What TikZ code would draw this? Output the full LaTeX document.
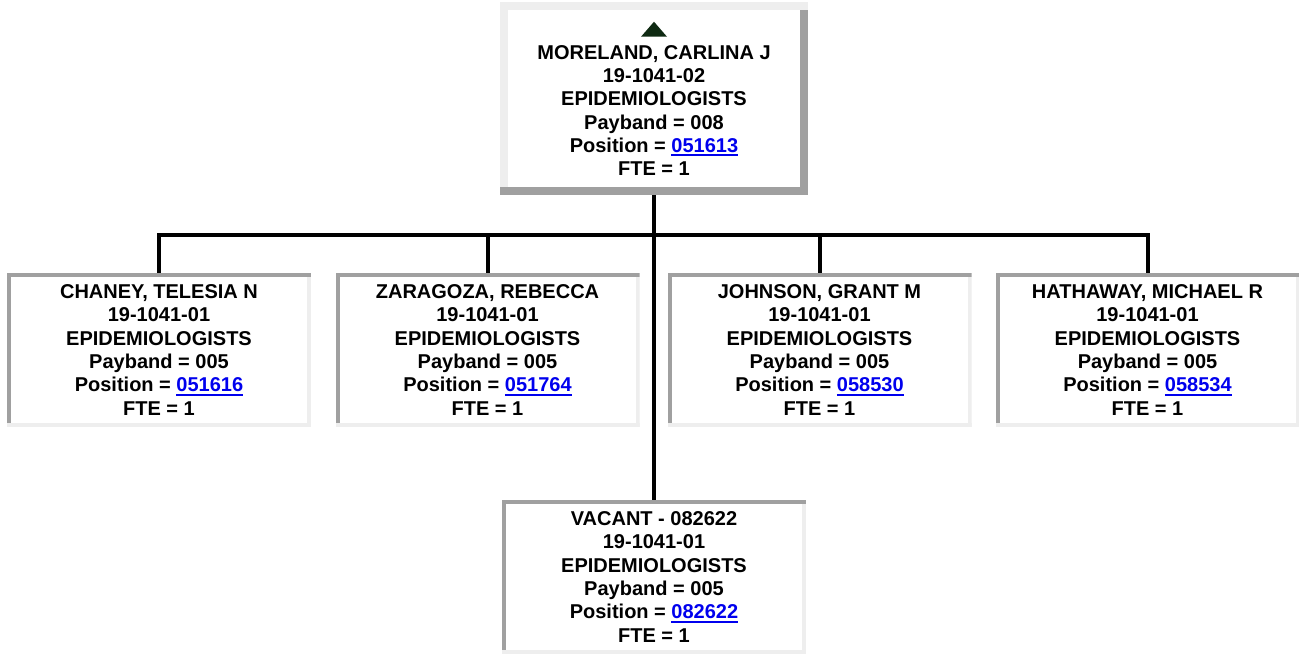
\documentclass[tikz,border=0pt]{standalone}
\usepackage{fontspec}
\setmainfont{Liberation Sans}
\usepackage{tikz}
\usepackage{xcolor}
\usetikzlibrary{positioning, calc}
\definecolor{mGrey}{HTML}{A0A0A0}
\definecolor{mLight}{HTML}{EEEEEE}
\definecolor{mBlue}{HTML}{0000EE}
\definecolor{mGreen}{HTML}{0F2A12}
\newcommand{\poslink}[1]{\textcolor{mBlue}{\setbox0\hbox{#1}\rlap{\rule[-3pt]{\wd0}{1.5pt}}\box0}}

\begin{document}
\begin{tikzpicture}[
  x=0.75pt, y=-0.75pt,
  bevel/.style n args={3}{path picture={
      \fill[#1] (path picture bounding box.north west) rectangle ([yshift=-#3]path picture bounding box.north east);
      \fill[#1] (path picture bounding box.north west) rectangle ([xshift=#3]path picture bounding box.south west);
      \fill[#2] ([yshift=-#3]path picture bounding box.north east) rectangle ([xshift=-#3]path picture bounding box.south east);
      \fill[#2] (path picture bounding box.south west) rectangle ([yshift=#3]path picture bounding box.south east);
  }},
  box/.style={fill=white, inner sep=0pt, align=center,
              font=\fontsize{15}{17.5}\selectfont\bfseries},
  chief/.style={box, minimum width=231pt, minimum height=144.75pt,
                bevel={mLight}{mGrey}{6pt}},
  staff/.style={box, minimum width=228pt, minimum height=115.5pt,
                bevel={mGrey}{mLight}{3pt}},
  link/.style={draw=black, line width=3pt},
]
  \useasboundingbox (0,0) rectangle (1299,655);

  \node[chief] (moreland) at (654,98.5) {\rule{0pt}{11pt}\\MORELAND, CARLINA J\\19-1041-02\\EPIDEMIOLOGISTS\\Payband = 008\\Position = \poslink{051613}\\FTE = 1};
  \fill[mGreen] ([yshift=-15pt]moreland.north) -- ([xshift=9.75pt,yshift=-26.25pt]moreland.north)
    -- ([xshift=-9.75pt,yshift=-26.25pt]moreland.north) -- cycle;

  \node[staff] (chaney) at (159,350) {CHANEY, TELESIA N\\19-1041-01\\EPIDEMIOLOGISTS\\Payband = 005\\Position = \poslink{051616}\\FTE = 1};
  \node[staff] (zaragoza) at (487.5,350) {ZARAGOZA, REBECCA\\19-1041-01\\EPIDEMIOLOGISTS\\Payband = 005\\Position = \poslink{051764}\\FTE = 1};
  \node[staff] (johnson) at (819.5,350) {JOHNSON, GRANT M\\19-1041-01\\EPIDEMIOLOGISTS\\Payband = 005\\Position = \poslink{058530}\\FTE = 1};
  \node[staff] (hathaway) at (1147.5,350) {HATHAWAY, MICHAEL R\\19-1041-01\\EPIDEMIOLOGISTS\\Payband = 005\\Position = \poslink{058534}\\FTE = 1};
  \node[staff] (vacant) at (654,577) {VACANT - 082622\\19-1041-01\\EPIDEMIOLOGISTS\\Payband = 005\\Position = \poslink{082622}\\FTE = 1};

  % org lines
  \coordinate (bar) at (654,235);
  \draw[link] (moreland.south) -- (vacant.north);
  \foreach \s in {chaney, zaragoza, johnson, hathaway}
    \draw[link] (bar) -| (\s.north);
\end{tikzpicture}
\end{document}
